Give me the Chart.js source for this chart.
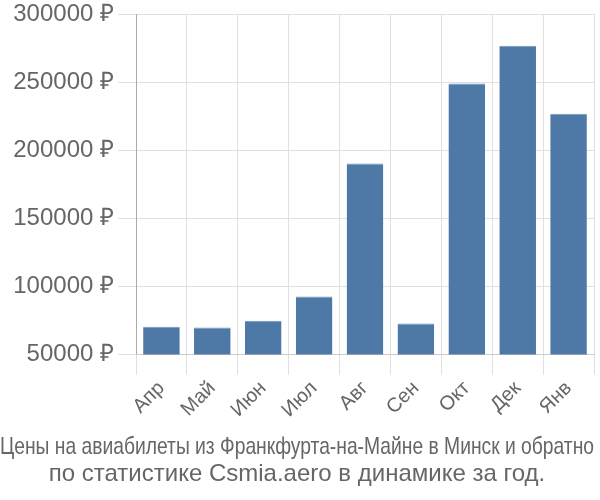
<!DOCTYPE html>
<html>
<head>
<meta charset="utf-8">
<script src="https://cdn.jsdelivr.net/npm/chart.js@4"></script>
<style>
  body { margin: 0; background: #fff; }
  #wrap { width: 600px; height: 500px; }
</style>
</head>
<body>
<div id="wrap"><canvas id="myChart"></canvas></div>
<script>
var months = ['Апр', 'Май', 'Июн', 'Июл', 'Авг', 'Сен', 'Окт', 'Дек', 'Янв'];
var prices = [70400, 69900, 74800, 92600, 190200, 72800, 249000, 276700, 226700];
var yTicks = [50000, 100000, 150000, 200000, 250000, 300000];
var titleLines = ['Цены на авиабилеты из Франкфурта-на-Майне в Минск и обратно',
                  'по статистике Csmia.aero в динамике за год.'];

document.addEventListener('DOMContentLoaded', function () {
    var ctx = document.getElementById('myChart').getContext('2d');

    var myChart = new Chart(ctx, {
        type: 'bar',
        data: {
            labels: months,
            datasets: [{
                data: prices,
                backgroundColor: '#4e79a7',
                borderColor: '#7096bd',
                borderWidth: { top: 1, left: 0, right: 0, bottom: 0 },
                categoryPercentage: 0.72,
                barPercentage: 1
            }]
        },
        options: {
            responsive: true,
            maintainAspectRatio: false,
            animation: false,
            layout: { padding: { top: 0, right: 6, left: 0, bottom: 0 } },
            plugins: {
                legend: { display: false },
                tooltip: { enabled: false },
                title: {
                    display: true,
                    position: 'bottom',
                    text: titleLines,
                    color: '#666',
                    font: { family: '"Liberation Sans", Arial, sans-serif', size: 24, weight: 'normal', lineHeight: 1.12 },
                    padding: { top: 10, bottom: 12 }
                }
            },
            scales: {
                y: {
                    min: yTicks[0],
                    max: yTicks[yTicks.length - 1],
                    afterBuildTicks: function (axis) {
                        axis.ticks = yTicks.map(function (v) { return { value: v }; });
                    },
                    afterFit: function (axis) {
                        axis.width = 136;
                        axis.paddingTop = 14;
                    },
                    ticks: {
                        color: '#666',
                        font: { family: '"Liberation Sans", Arial, sans-serif', size: 24 },
                        padding: 4,
                        callback: function (v) { return v + ' ₽'; }
                    },
                    grid: { color: '#e0e0e0', lineWidth: 1, tickLength: 18 },
                    border: { color: '#aaa' }
                },
                x: {
                    ticks: {
                        color: '#666',
                        font: { family: '"Liberation Sans", Arial, sans-serif', size: 20 },
                        maxRotation: 45,
                        minRotation: 45,
                        padding: 2
                    },
                    grid: { color: '#e0e0e0', lineWidth: 1, tickLength: 20, offset: true },
                    border: { color: '#ccc' }
                }
            }
        }
    });
});
</script>
</body>
</html>
